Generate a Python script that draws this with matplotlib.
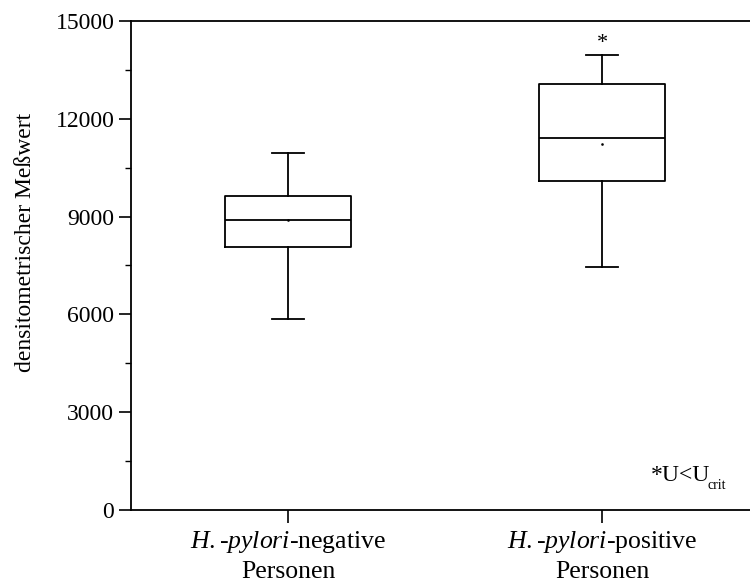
import matplotlib.pyplot as plt
from matplotlib.ticker import MultipleLocator

plt.rcParams['font.family'] = ['Liberation Serif', 'DejaVu Serif']
plt.rcParams['mathtext.fontset'] = 'custom'
plt.rcParams['mathtext.rm'] = 'Liberation Serif'
plt.rcParams['mathtext.it'] = 'Liberation Serif:italic'

# box statistics
groups = [r"$\mathit{H.}$-$\mathit{pylori}$-negative" + "\nPersonen",
          r"$\mathit{H.}$-$\mathit{pylori}$-positive" + "\nPersonen"]
whislo = [5860, 7460]
q1 = [8070, 10100]
med = [8890, 11420]
q3 = [9630, 13060]
whishi = [10960, 13960]
mean = [8900, 11220]
y_ticks = [0, 3000, 6000, 9000, 12000, 15000]

stats = []
for i in range(len(groups)):
    stats.append({'whislo': whislo[i], 'q1': q1[i], 'med': med[i], 'q3': q3[i],
                  'whishi': whishi[i], 'mean': mean[i], 'fliers': []})

fig = plt.figure(figsize=(7.5, 5.88), dpi=100)
ax = fig.add_axes([0.1747, 0.1327, 0.8373, 0.8316])

line = dict(color='black', linewidth=1.3)
ax.bxp(stats, positions=[1, 2], widths=0.4, showmeans=True, showfliers=False,
       boxprops=line, whiskerprops=line, capprops=line, medianprops=line,
       meanprops=dict(marker='s', markersize=0.8, markerfacecolor='black',
                      markeredgecolor='black'),
       capwidths=0.1)

ax.set_xlim(0.5, 2.5)
ax.set_ylim(0, 15000)
ax.set_xticks([1, 2])
ax.set_xticklabels(groups, fontsize=18.5, linespacing=1.3)
ax.set_yticks(y_ticks)
ax.set_yticklabels([str(v) for v in y_ticks], fontsize=17)
ax.yaxis.set_minor_locator(MultipleLocator(1500))
ax.tick_params(axis='both', which='major', direction='out', length=9, width=1.2, pad=3)
ax.tick_params(axis='y', which='minor', direction='out', length=4, width=1.0)
ax.tick_params(axis='x', pad=5)
ax.spines['right'].set_visible(False)
for s in ['left', 'top', 'bottom']:
    ax.spines[s].set_linewidth(1.3)

ax.set_ylabel('densitometrischer Meßwert', fontsize=17)
ax.yaxis.set_label_coords(-0.151, 0.548)

ax.text(2, 14300, '*', ha='center', va='center', fontsize=16)
ax.text(2.156, 890, '*U<U', ha='left', va='baseline', fontsize=17)
ax.text(2.335, 650, 'crit', ha='left', va='baseline', fontsize=10)

fig.savefig('out.png', dpi=100)
